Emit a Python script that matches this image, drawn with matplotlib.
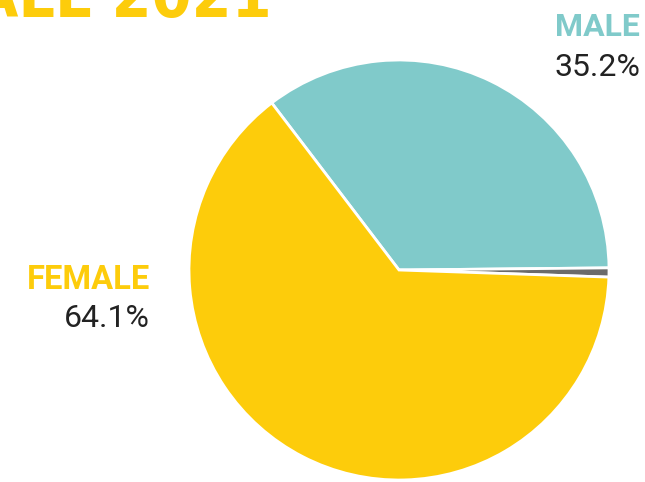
import matplotlib
matplotlib.use("Agg")
import matplotlib.pyplot as plt

labels = ["MALE", "OTHER", "FEMALE"]
values = [35.2, 0.7, 64.1]
colors = ["#80CACA", "#6B6B6B", "#FDCC0B"]
title = "FALL 2021"

fig = plt.figure(figsize=(6.45, 4.82), dpi=100)
ax = fig.add_axes([(399 - 210) / 645, (482 - 270 - 210) / 482, 420 / 645, 420 / 482])
ax.pie(values, colors=colors, startangle=127.3, counterclock=False, radius=1,
       wedgeprops=dict(edgecolor="white", linewidth=2))
ax.set_xlim(-1.0, 1.0)
ax.set_ylim(-1.0, 1.0)
ax.set_aspect("equal")
ax.axis("off")

fig.text(272 / 645, 1 - 17 / 482, title, ha="right", va="baseline",
         fontsize=46, fontweight="bold", color="#FDCC0B", fontstretch="condensed",
         family=["DejaVu Sans"])

fig.text(640 / 645, 1 - 36 / 482, labels[0], ha="right", va="baseline",
         fontsize=23, fontweight="bold", color="#80CACA", family=["Roboto", "DejaVu Sans"])
fig.text(640 / 645, 1 - 76 / 482, f"{values[0]}%", ha="right", va="baseline",
         fontsize=23, color="#222222", family=["Roboto", "DejaVu Sans"])
fig.text(150 / 645, 1 - 289 / 482, labels[2], ha="right", va="baseline",
         fontsize=23.5, fontweight="bold", color="#FDCC0B", family=["Roboto", "DejaVu Sans"])
fig.text(150 / 645, 1 - 327 / 482, f"{values[2]}%", ha="right", va="baseline",
         fontsize=23, color="#222222", family=["Roboto", "DejaVu Sans"])

fig.savefig("out.png", dpi=100)
